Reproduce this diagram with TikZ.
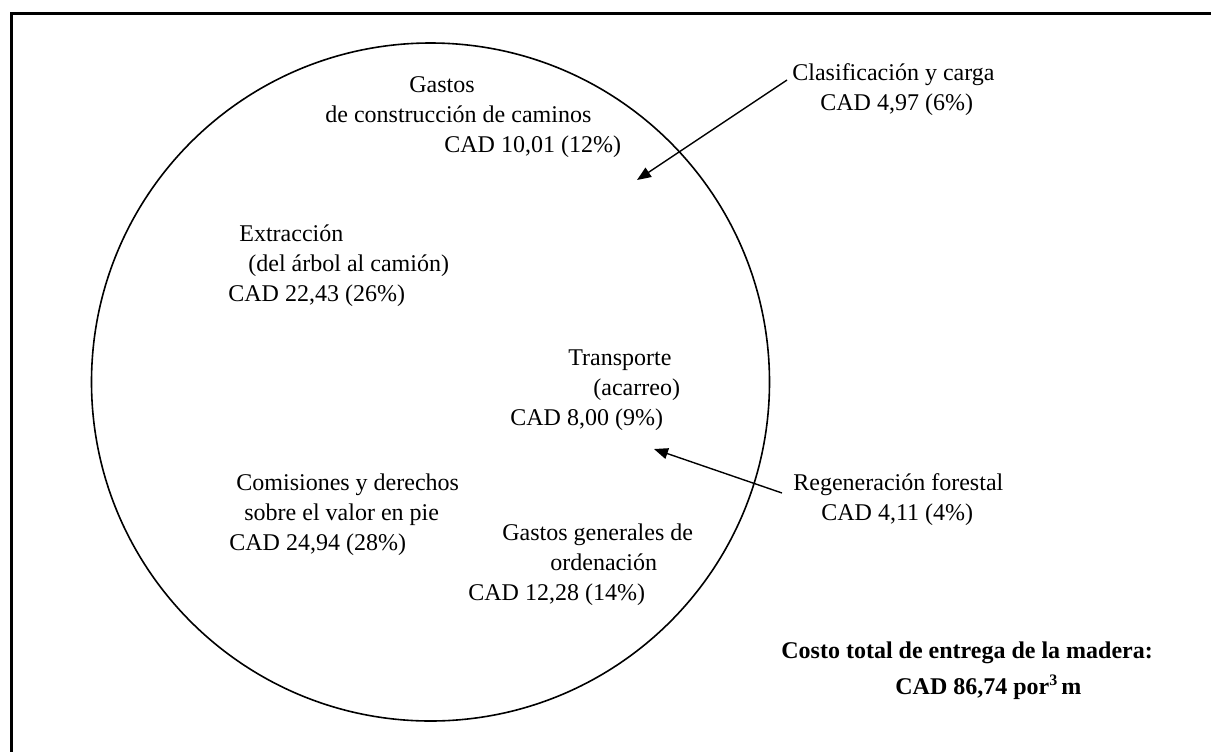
\documentclass[tikz,border=0pt]{standalone}
\usepackage{fontspec}
\setmainfont{Liberation Serif}
\usetikzlibrary{arrows.meta}
\newlength{\myrulewidth}
\setlength{\myrulewidth}{0.8pt}
\newlength{\myPieSize}
\setlength{\myPieSize}{339pt}

\begin{document}
\begin{tikzpicture}[x=0.5pt, y=-0.5pt,
                    my rule/.style={line width=\myrulewidth},
                    my frame/.style={line width=1.5pt},
                    my label/.style={
                      anchor=north west, inner sep=0pt, align=left,
                      font=\fontsize{12}{15}\selectfont},
                    my total/.style={
                      my label, font=\fontsize{12}{18}\selectfont\bfseries},
                    my arrow/.style={
                      -{Triangle[length=7pt, width=5.5pt]}, line width=0.7pt}]

\useasboundingbox (0,0) rectangle (1211,751);
\clip (0,0) rectangle (1211,751);
\draw[my frame] (11,13) rectangle (1240,780);

\node[my rule, draw, circle, minimum size=\myPieSize, inner sep=0pt]
  (pie) at (430.5,382) {};

\node[my label] (roads) at (325,76)
  {\hspace*{42pt}Gastos\\
   de construcción de caminos\\
   \hspace*{59.5pt}CAD 10,01 (12\%)};
\node[my label] (harvest) at (228,224)
  {\hspace*{5.5pt}Extracción\\
   \hspace*{10pt}(del árbol al camión)\\
   CAD 22,43 (26\%)};
\node[my label] (haul) at (510,349)
  {\hspace*{29pt}Transporte\\
   \hspace*{41.5pt}(acarreo)\\
   CAD 8,00 (9\%)};
\node[my label] (stumpage) at (229,473)
  {\hspace*{3.5pt}Comisiones y derechos\\
   \hspace*{7.5pt}sobre el valor en pie\\
   CAD 24,94 (28\%)};
\node[my label] (overhead) at (468,523)
  {\hspace*{17pt}Gastos generales de\\
   \hspace*{41pt}ordenación\\
   CAD 12,28 (14\%)};
\node[my label] (grade) at (792,63)
  {Clasificación y carga\\
   \hspace*{14pt}CAD 4,97 (6\%)};
\node[my label] (regen) at (793,473)
  {Regeneración forestal\\
   \hspace*{14pt}CAD 4,11 (4\%)};
\node[my total] (total) at (781,641)
  {Costo total de entrega de la madera:\\
   \hspace*{57pt}CAD 86,74 por\textsuperscript{3}\kern1.5pt m};

% flechas hacia las porciones pequeñas
\coordinate (grade tip) at (637,180);
\coordinate (regen tip) at (654,449);
\draw[my arrow] ([xshift=-2.5pt, yshift=-8.5pt]grade.north west) -- (grade tip);
\draw[my arrow] ([xshift=-5.5pt, yshift=-10pt]regen.north west) -- (regen tip);
\end{tikzpicture}
\end{document}
